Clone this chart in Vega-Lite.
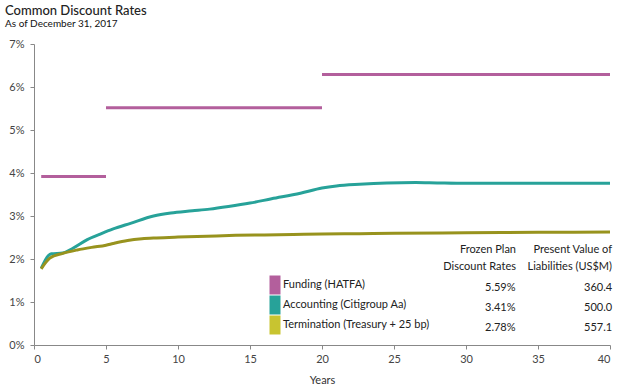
{
  "$schema": "https://vega.github.io/schema/vega-lite/v6.json",
  "width": 576,
  "height": 301,
  "autosize": {"type": "none"},
  "padding": {"left": 34, "top": 44, "right": 16, "bottom": 46},
  "background": "white",
  "title": {
    "text": "Common Discount Rates",
    "subtitle": "As of December 31, 2017",
    "anchor": "start",
    "frame": "group",
    "dx": -29,
    "offset": 9,
    "font": "Lato",
    "fontSize": 13,
    "fontWeight": 500,
    "color": "#222222",
    "subtitleFont": "Lato",
    "subtitleFontSize": 10,
    "subtitleColor": "#111111",
    "subtitlePadding": 1
  },
  "config": {
    "view": {"stroke": null},
    "axis": {
      "grid": false,
      "domainColor": "#888888",
      "tickColor": "#888888",
      "tickSize": 4,
      "labelFont": "Lato",
      "labelFontSize": 11,
      "labelColor": "#444444",
      "titleFont": "Lato",
      "titleFontSize": 11,
      "titleFontWeight": "normal",
      "titleColor": "#333333"
    },
    "legend": {
      "labelFont": "Lato",
      "labelFontSize": 11,
      "labelColor": "#222222",
      "titleFont": "Lato",
      "titleFontSize": 11,
      "titleFontWeight": "normal",
      "titleColor": "#222222",
      "padding": 0,
      "rowPadding": 0,
      "symbolStrokeWidth": 0
    }
  },
  "layer": [
    {
      "data": {
        "values": [
          {"series": "Funding (HATFA)", "seg": "f1", "year": 0.5, "rate": 3.92},
          {"series": "Funding (HATFA)", "seg": "f1", "year": 5, "rate": 3.92},
          {"series": "Funding (HATFA)", "seg": "f2", "year": 5, "rate": 5.52},
          {"series": "Funding (HATFA)", "seg": "f2", "year": 20, "rate": 5.52},
          {"series": "Funding (HATFA)", "seg": "f3", "year": 20, "rate": 6.29},
          {"series": "Funding (HATFA)", "seg": "f3", "year": 40, "rate": 6.29},
          {"series": "Accounting (Citigroup Aa)", "seg": "a", "year": 0.5, "rate": 1.78},
          {"series": "Accounting (Citigroup Aa)", "seg": "a", "year": 1.0, "rate": 2.08},
          {"series": "Accounting (Citigroup Aa)", "seg": "a", "year": 1.2, "rate": 2.12},
          {"series": "Accounting (Citigroup Aa)", "seg": "a", "year": 2.0, "rate": 2.14},
          {"series": "Accounting (Citigroup Aa)", "seg": "a", "year": 2.7, "rate": 2.25},
          {"series": "Accounting (Citigroup Aa)", "seg": "a", "year": 3.7, "rate": 2.45},
          {"series": "Accounting (Citigroup Aa)", "seg": "a", "year": 4.6, "rate": 2.58},
          {"series": "Accounting (Citigroup Aa)", "seg": "a", "year": 5.5, "rate": 2.7},
          {"series": "Accounting (Citigroup Aa)", "seg": "a", "year": 6.7, "rate": 2.83},
          {"series": "Accounting (Citigroup Aa)", "seg": "a", "year": 8.3, "rate": 3.0},
          {"series": "Accounting (Citigroup Aa)", "seg": "a", "year": 9.5, "rate": 3.07},
          {"series": "Accounting (Citigroup Aa)", "seg": "a", "year": 11, "rate": 3.12},
          {"series": "Accounting (Citigroup Aa)", "seg": "a", "year": 12.2, "rate": 3.16},
          {"series": "Accounting (Citigroup Aa)", "seg": "a", "year": 13.5, "rate": 3.22},
          {"series": "Accounting (Citigroup Aa)", "seg": "a", "year": 15, "rate": 3.3},
          {"series": "Accounting (Citigroup Aa)", "seg": "a", "year": 16.5, "rate": 3.4},
          {"series": "Accounting (Citigroup Aa)", "seg": "a", "year": 18.5, "rate": 3.53},
          {"series": "Accounting (Citigroup Aa)", "seg": "a", "year": 20, "rate": 3.65},
          {"series": "Accounting (Citigroup Aa)", "seg": "a", "year": 21, "rate": 3.7},
          {"series": "Accounting (Citigroup Aa)", "seg": "a", "year": 22.6, "rate": 3.74},
          {"series": "Accounting (Citigroup Aa)", "seg": "a", "year": 24.5, "rate": 3.77},
          {"series": "Accounting (Citigroup Aa)", "seg": "a", "year": 26.5, "rate": 3.78},
          {"series": "Accounting (Citigroup Aa)", "seg": "a", "year": 28, "rate": 3.77},
          {"series": "Accounting (Citigroup Aa)", "seg": "a", "year": 30, "rate": 3.76},
          {"series": "Accounting (Citigroup Aa)", "seg": "a", "year": 35, "rate": 3.76},
          {"series": "Accounting (Citigroup Aa)", "seg": "a", "year": 40, "rate": 3.76},
          {"series": "Termination (Treasury + 25 bp)", "seg": "t", "year": 0.5, "rate": 1.77},
          {"series": "Termination (Treasury + 25 bp)", "seg": "t", "year": 1.1, "rate": 2.02},
          {"series": "Termination (Treasury + 25 bp)", "seg": "t", "year": 2, "rate": 2.13},
          {"series": "Termination (Treasury + 25 bp)", "seg": "t", "year": 3, "rate": 2.21},
          {"series": "Termination (Treasury + 25 bp)", "seg": "t", "year": 4, "rate": 2.27},
          {"series": "Termination (Treasury + 25 bp)", "seg": "t", "year": 5, "rate": 2.32},
          {"series": "Termination (Treasury + 25 bp)", "seg": "t", "year": 5.5, "rate": 2.36},
          {"series": "Termination (Treasury + 25 bp)", "seg": "t", "year": 6.5, "rate": 2.43},
          {"series": "Termination (Treasury + 25 bp)", "seg": "t", "year": 7.5, "rate": 2.47},
          {"series": "Termination (Treasury + 25 bp)", "seg": "t", "year": 8.5, "rate": 2.49},
          {"series": "Termination (Treasury + 25 bp)", "seg": "t", "year": 10, "rate": 2.51},
          {"series": "Termination (Treasury + 25 bp)", "seg": "t", "year": 12, "rate": 2.53},
          {"series": "Termination (Treasury + 25 bp)", "seg": "t", "year": 14, "rate": 2.55},
          {"series": "Termination (Treasury + 25 bp)", "seg": "t", "year": 16, "rate": 2.56},
          {"series": "Termination (Treasury + 25 bp)", "seg": "t", "year": 18, "rate": 2.57},
          {"series": "Termination (Treasury + 25 bp)", "seg": "t", "year": 20, "rate": 2.58},
          {"series": "Termination (Treasury + 25 bp)", "seg": "t", "year": 22.6, "rate": 2.59},
          {"series": "Termination (Treasury + 25 bp)", "seg": "t", "year": 25, "rate": 2.6},
          {"series": "Termination (Treasury + 25 bp)", "seg": "t", "year": 30, "rate": 2.61},
          {"series": "Termination (Treasury + 25 bp)", "seg": "t", "year": 35, "rate": 2.62},
          {"series": "Termination (Treasury + 25 bp)", "seg": "t", "year": 40, "rate": 2.63}
        ]
      },
      "mark": {"type": "line", "strokeWidth": 3, "interpolate": "monotone"},
      "encoding": {
        "x": {
          "field": "year", "type": "quantitative",
          "scale": {"domain": [0, 40], "nice": false},
          "axis": {"values": [0, 5, 10, 15, 20, 25, 30, 35, 40], "title": "Years", "labelPadding": 4, "titlePadding": 10}
        },
        "y": {
          "field": "rate", "type": "quantitative",
          "scale": {"domain": [0, 7], "nice": false},
          "axis": {"values": [0, 1, 2, 3, 4, 5, 6, 7], "title": null, "labelExpr": "datum.value + '%'", "labelPadding": 6}
        },
        "stroke": {
          "field": "series", "type": "nominal",
          "scale": {
            "domain": ["Accounting (Citigroup Aa)", "Funding (HATFA)", "Termination (Treasury + 25 bp)"],
            "range": ["#27a299", "#b35f9c", "#98931e"]
          },
          "legend": null
        },
        "detail": {"field": "seg", "type": "nominal"}
      }
    },
    {
      "data": {
        "values": [
          {"series": "Funding (HATFA)", "frozen": "5.59%", "pv": "360.4"},
          {"series": "Accounting (Citigroup Aa)", "frozen": "3.41%", "pv": "500.0"},
          {"series": "Termination (Treasury + 25 bp)", "frozen": "2.78%", "pv": "557.1"}
        ]
      },
      "mark": {"type": "point", "opacity": 0, "filled": true},
      "encoding": {
        "color": {
          "field": "series", "type": "nominal",
          "scale": {
            "domain": ["Funding (HATFA)", "Accounting (Citigroup Aa)", "Termination (Treasury + 25 bp)"],
            "range": ["#b35f9c", "#27a299", "#c8c430"]
          },
          "legend": {
            "title": null,
            "orient": "none",
            "legendX": 231,
            "legendY": 231,
            "symbolType": "M-0.55,-0.95H0.55V0.95H-0.55Z",
            "symbolSize": 400,
            "symbolOpacity": 1,
            "labelOffset": -2
          }
        },
        "shape": {
          "field": "frozen", "type": "nominal",
          "scale": {"domain": ["5.59%", "3.41%", "2.78%"], "range": ["square", "square", "square"]},
          "legend": {
            "title": ["Frozen Plan", "Discount Rates"],
            "orient": "none",
            "legendX": 409,
            "legendY": 200,
            "titleAnchor": "end",
            "titleAlign": "right",
            "titleLineHeight": 17,
            "titlePadding": 6,
            "symbolSize": 400,
            "symbolOpacity": 0,
            "labelOffset": 2
          }
        },
        "strokeDash": {
          "field": "pv", "type": "nominal",
          "scale": {"domain": ["360.4", "500.0", "557.1"]},
          "legend": {
            "title": ["Present Value of", "Liabilities (US$M)"],
            "orient": "none",
            "legendX": 494,
            "legendY": 200,
            "titleAnchor": "end",
            "titleAlign": "right",
            "titleLineHeight": 17,
            "titlePadding": 6,
            "symbolType": "square",
            "symbolSize": 400,
            "symbolOpacity": 0,
            "labelOffset": 2
          }
        }
      }
    }
  ]
}
